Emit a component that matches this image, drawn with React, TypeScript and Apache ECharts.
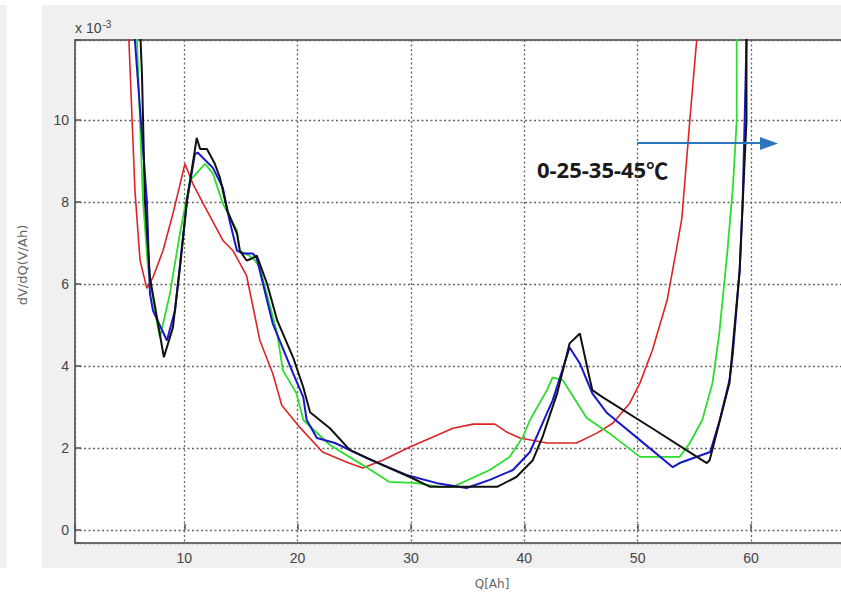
import React, { useEffect, useRef } from 'react';
import * as echarts from 'echarts';

// dV/dQ curves, x = Q [Ah], y = dV/dQ [x10^-3 V/Ah]
const curve0C: number[][] = [
  [4.95, 13], [5.12, 11.92], [5.65, 8.27], [6.1, 6.57], [6.7, 5.89], [7.24, 6.16], [8.12, 6.81],
  [9.0, 7.71], [10.06, 8.93], [10.76, 8.44], [12.0, 7.79], [13.41, 7.06], [14.3, 6.81], [15.5, 6.2],
  [16.67, 4.62], [17.8, 3.82], [18.6, 3.04], [20.2, 2.5], [22.2, 1.9], [24.35, 1.65], [25.75, 1.51],
  [27.5, 1.7], [29.9, 2.02], [32.3, 2.31], [33.7, 2.48], [35.5, 2.58], [37.4, 2.58], [38.5, 2.38],
  [39.6, 2.24], [42.0, 2.12], [44.6, 2.12], [46.4, 2.36], [47.8, 2.6], [49.3, 3.09], [50.2, 3.58],
  [51.3, 4.38], [52.6, 5.6], [53.4, 6.81], [53.9, 7.6], [54.6, 9.98], [55.2, 11.92], [55.5, 13],
];
const curve25C: number[][] = [
  [5.75, 13], [5.83, 11.92], [6.36, 8.03], [6.8, 6.4], [7.6, 5.04], [7.86, 4.7], [8.74, 5.77],
  [9.62, 7.23], [10.5, 8.52], [11.83, 8.93], [12.53, 8.69], [13.4, 7.96], [14.65, 7.3], [14.9, 6.81],
  [16.06, 6.64], [16.67, 6.4], [18.2, 4.79], [18.7, 3.89], [19.9, 3.33], [20.5, 2.68], [22.85, 2.07],
  [25.76, 1.58], [28.1, 1.17], [30.5, 1.14], [32.5, 1.05], [33.7, 1.05], [36.95, 1.46], [38.7, 1.78],
  [39.86, 2.26], [40.5, 2.68], [42.0, 3.41], [42.5, 3.72], [43.4, 3.65], [45.5, 2.73], [47.5, 2.36],
  [50.2, 1.78], [53.7, 1.78], [54.6, 2.12], [55.7, 2.68], [56.6, 3.58], [57.2, 4.79], [57.9, 6.74],
  [58.4, 8.35], [58.74, 9.98], [58.74, 11.92], [58.74, 13],
];
const curve35C: number[][] = [
  [5.55, 13], [5.65, 11.92], [6.7, 8.03], [6.97, 5.77], [7.24, 5.35], [8.47, 4.62], [9.18, 5.35],
  [10.24, 8.03], [10.94, 9.17], [11.2, 9.2], [12.53, 8.83], [13.4, 8.35], [14.0, 7.54], [14.65, 6.81],
  [15.2, 6.74], [16.06, 6.74], [16.4, 6.62], [17.8, 5.04], [19.6, 3.82], [20.5, 3.24], [20.8, 2.68],
  [21.7, 2.24], [23.3, 2.12], [26.1, 1.75], [29.6, 1.34], [32.3, 1.14], [34.9, 1.02], [36.95, 1.22],
  [39.0, 1.46], [40.5, 1.9], [42.0, 2.85], [42.5, 3.16], [44.0, 4.45], [44.9, 4.06], [46.0, 3.33],
  [47.3, 2.85], [50.2, 2.19], [53.1, 1.53], [53.7, 1.63], [56.4, 1.9], [57.25, 2.68], [58.1, 3.65],
  [58.4, 4.31], [59.0, 6.33], [59.27, 8.03], [59.44, 9.98], [59.6, 11.92], [59.65, 13],
];
const curve45C: number[][] = [
  [6.1, 13], [6.15, 11.92], [6.27, 11.1], [6.53, 8.03], [6.97, 6.16], [8.2, 4.21], [9.0, 4.94],
  [9.62, 6.4], [10.24, 8.03], [11.1, 9.56], [11.4, 9.29], [12.0, 9.29], [12.7, 8.93], [13.15, 8.59],
  [13.8, 7.79], [14.65, 7.23], [14.9, 6.81], [15.5, 6.57], [15.97, 6.62], [16.4, 6.69], [17.3, 6.01],
  [18.2, 5.11], [19.6, 4.21], [20.5, 3.48], [21.1, 2.87], [22.85, 2.48], [24.6, 1.95], [27.5, 1.58],
  [29.9, 1.29], [31.7, 1.05], [37.6, 1.05], [39.3, 1.29], [40.75, 1.7], [41.6, 2.26], [42.25, 2.8],
  [42.9, 3.33], [44.0, 4.55], [44.9, 4.79], [45.8, 3.65], [46.0, 3.41], [46.9, 3.24], [51.1, 2.51],
  [56.1, 1.63], [56.35, 1.7], [58.1, 3.58], [59.0, 6.33], [59.6, 9.98], [59.6, 11.92], [59.6, 13],
];

const seriesNames = ['0℃', '25℃', '35℃', '45℃'];
const seriesColors = ['#dd2424', '#2ddd2d', '#1818c8', '#111111'];
const seriesWidths = [1.6, 1.8, 2, 2];
const seriesData = [curve0C, curve25C, curve35C, curve45C];

const xMin = 0.36;
const xMax = 68.47;
const yMin = -0.32;
const yMax = 11.95;

export default function App() {
  const ref = useRef<HTMLDivElement>(null);
  useEffect(() => {
    document.body.style.margin = '0';
    const chart = echarts.init(ref.current!, null, { renderer: 'svg' });
    const gridLine = { show: true, lineStyle: { color: '#666666', width: 1.3, type: [2, 2.5] as number[] } };
    const tickFont = 'Liberation Sans, Arial, sans-serif';
    chart.setOption({
      animation: false,
      backgroundColor: '#f0f0f0',
      grid: {
        left: 75, top: 40, width: 772, height: 503,
        outerBoundsMode: 'none', containLabel: false,
        show: true, backgroundColor: '#ffffff', borderColor: '#6e6e6e', borderWidth: 2,
      },
      xAxis: {
        type: 'value', min: xMin, max: xMax, splitNumber: 7,
        axisLine: { show: false },
        axisTick: { show: true, inside: true, length: 6, lineStyle: { color: '#555', width: 1.5 } },
        axisLabel: {
          color: '#444444', fontSize: 14, fontFamily: tickFont, margin: 8,
          formatter: (v: number) => (Math.abs(v % 10) < 1e-6 && v > 0 ? String(Math.round(v)) : ''),
        },
        splitLine: gridLine,
      },
      yAxis: {
        type: 'value', min: yMin, max: yMax, splitNumber: 6,
        axisLine: { show: false },
        axisTick: { show: true, inside: true, length: 6, lineStyle: { color: '#555', width: 1.5 } },
        axisLabel: {
          color: '#444444', fontSize: 14, fontFamily: tickFont, margin: 6,
          formatter: (v: number) => {
            const r = Math.round(v);
            return Math.abs(v - r) < 1e-6 && r % 2 === 0 ? String(r) : '';
          },
        },
        splitLine: gridLine,
      },
      series: seriesData.map((d, i) => ({
        name: seriesNames[i],
        type: 'line',
        data: d,
        showSymbol: false,
        symbol: 'none',
        clip: true,
        lineStyle: { color: seriesColors[i], width: seriesWidths[i] },
        z: 3 + i,
      })),
      graphic: [
        { type: 'rect', shape: { x: 7, y: 0, width: 35, height: 597 }, style: { fill: '#ffffff' }, silent: true },
        { type: 'rect', shape: { x: 0, y: 0, width: 841, height: 5 }, style: { fill: '#ffffff' }, silent: true },
        { type: 'rect', shape: { x: 0, y: 568, width: 841, height: 29 }, style: { fill: '#ffffff' }, silent: true },
        {
          type: 'text', x: 75, y: 19,
          style: {
            text: '{a|x 10}{b|-3}',
            rich: {
              a: { fontSize: 14, fill: '#444444', fontFamily: tickFont, verticalAlign: 'bottom', lineHeight: 16 },
              b: { fontSize: 10, fill: '#444444', fontFamily: tickFont, verticalAlign: 'top', lineHeight: 16, padding: [0, 0, 8, 1] },
            },
          },
        },
        {
          type: 'text', x: 22, y: 265, rotation: Math.PI / 2,
          style: {
            text: 'dV/dQ(V/Ah)', fontSize: 13, fill: '#666666', align: 'center', verticalAlign: 'middle',
            fontFamily: 'DejaVu Sans, sans-serif',
          },
        },
        {
          type: 'text', x: 492, y: 584,
          style: {
            text: 'Q[Ah]', fontSize: 12, fill: '#666666', align: 'center', verticalAlign: 'middle',
            fontFamily: 'DejaVu Sans, sans-serif',
          },
        },
        {
          type: 'text', x: 537, y: 169,
          style: {
            text: '{n|0-25-35-45}{c|℃}',
            rich: {
              n: { fontSize: 22, fontWeight: 'bold', fill: '#1a1a1a', fontFamily: 'Noto Sans, Open Sans, sans-serif' },
              c: { fontSize: 22, fontWeight: 'bold', fill: '#1a1a1a', fontFamily: 'Noto Sans CJK SC, sans-serif' },
            },
            align: 'left', verticalAlign: 'middle',
          },
        },
        {
          type: 'line', shape: { x1: 637, y1: 143, x2: 762, y2: 143 },
          style: { stroke: '#2e75c0', lineWidth: 2.2 }, z: 20,
        },
        {
          type: 'polygon', shape: { points: [[760, 137], [778, 143.5], [760, 150]] },
          style: { fill: '#2e75c0' }, z: 20,
        },
      ],
    });
    return () => chart.dispose();
  }, []);
  return <div ref={ref} style={{ width: 841, height: 597, position: 'absolute', left: 0, top: 0 }} />;
}
